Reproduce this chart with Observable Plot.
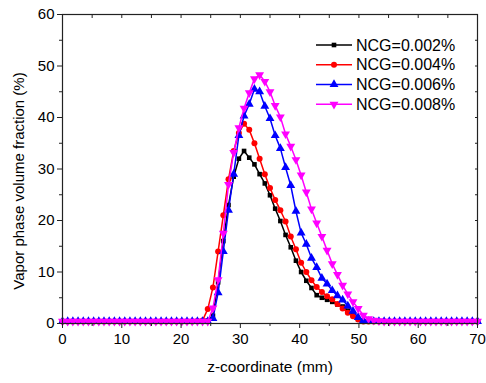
<!DOCTYPE html>
<html><head><meta charset="utf-8">
<script src="https://cdn.jsdelivr.net/npm/d3@7"></script>
<script src="https://cdn.jsdelivr.net/npm/@observablehq/plot@0.6"></script>
<style>
body{margin:0;background:#fff;}
#wrap{position:relative;width:486px;height:383px;font-family:"Liberation Sans",Arial,sans-serif;}
#legend{position:absolute;left:0;top:0;pointer-events:none;}
</style></head>
<body><div id="wrap"></div>
<script>
const zCoord = [0,0.875,1.75,2.625,3.5,4.375,5.25,6.125,7,7.875,8.75,9.625,10.5,11.375,12.25,13.125,14,14.875,15.75,16.625,17.5,18.375,19.25,20.125,21,21.875,22.75,23.625,24.5,25.375,26.25,27.125,28,28.875,29.75,30.625,31.5,32.375,33.25,34.125,35,35.875,36.75,37.625,38.5,39.375,40.25,41.125,42,42.875,43.75,44.625,45.5,46.375,47.25,48.125,49,49.875,50.75,51.625,52.5,53.375,54.25,55.125,56,56.875,57.75,58.625,59.5,60.375,61.25,62.125,63,63.875,64.75,65.625,66.5,67.375,68.25,69.125,70];
const ncg002 = [0.4,0.4,0.4,0.4,0.4,0.4,0.4,0.4,0.4,0.4,0.4,0.4,0.4,0.4,0.4,0.4,0.4,0.4,0.4,0.4,0.4,0.4,0.4,0.4,0.4,0.4,
  0.4,0.4,0.6,1.5,8,16,23,28.5,32,33.5,32.2,30.9,29,27.2,24.9,22.3,19.9,17.2,14.8,12.2,10,8.3,6.9,5.5,5.0,4.6,4.2,3.7,3.3,2.5,1.6,0.8,0.4,
  0.4,0.4,0.4,0.4,0.4,0.4,0.4,0.4,0.4,0.4,0.4,0.4,0.4,0.4,0.4,0.4,0.4,0.4,0.4,0.4,0.4,0.4];
const ncg004 = [0.4,0.4,0.4,0.4,0.4,0.4,0.4,0.4,0.4,0.4,0.4,0.4,0.4,0.4,0.4,0.4,0.4,0.4,0.4,0.4,0.4,0.4,0.4,0.4,0.4,0.4,
  0.5,0.6,2.8,7,14,21,28,33.5,37,38.8,37.6,35,32,29,26.3,24,22,19.8,16.9,14.4,11.8,10,8.4,7.1,6.1,5.3,4.7,3.8,2.9,2.1,1.4,0.8,0.4,
  0.4,0.4,0.4,0.4,0.4,0.4,0.4,0.4,0.4,0.4,0.4,0.4,0.4,0.4,0.4,0.4,0.4,0.4,0.4,0.4,0.4,0.4];
const ncg006 = [0.4,0.4,0.4,0.4,0.4,0.4,0.4,0.4,0.4,0.4,0.4,0.4,0.4,0.4,0.4,0.4,0.4,0.4,0.4,0.4,0.4,0.4,0.4,0.4,0.4,0.4,
  0.4,0.4,0.4,1,6,14,22,29,36.5,40.3,42.6,45.5,45,42.2,39.8,36.5,34,30.3,26.8,21.8,17.6,15.4,12.7,10.9,8.8,7.7,6.4,5.4,4.6,3.4,2.4,1.2,0.6,
  0.4,0.4,0.4,0.4,0.4,0.4,0.4,0.4,0.4,0.4,0.4,0.4,0.4,0.4,0.4,0.4,0.4,0.4,0.4,0.4,0.4,0.4];
const ncg008 = [0.4,0.4,0.4,0.4,0.4,0.4,0.4,0.4,0.4,0.4,0.4,0.4,0.4,0.4,0.4,0.4,0.4,0.4,0.4,0.4,0.4,0.4,0.4,0.4,0.4,0.4,
  0.4,0.4,0.4,3,8.5,17.5,27,33.2,38,41.8,44.8,47.5,48.3,47,45,42.3,40.1,36.8,34.4,31.8,28.8,25.5,22.2,19.5,16.9,14.2,11.6,9.5,7.4,5.7,4.2,2.9,1.6,
  0.9,0.6,0.5,0.4,0.4,0.4,0.4,0.4,0.4,0.4,0.4,0.4,0.4,0.4,0.4,0.4,0.4,0.4,0.4,0.4,0.4,0.4];
const seriesNames = ["NCG=0.002%","NCG=0.004%","NCG=0.006%","NCG=0.008%"];
const seriesColors = ["#000000","#ff0000","#0000ff","#ff00ff"];
const xMajor = [0,10,20,30,40,50,60,70];
const xMinor = [5,15,25,35,45,55,65];
const yMajor = [0,10,20,30,40,50,60];
const yMinor = [5,15,25,35,45,55];
const xTitle = "z-coordinate (mm)";
const yTitle = "Vapor phase volume fraction (%)";

const triangleDown = {draw(ctx, size){const y = -Math.sqrt(size/(3*Math.sqrt(3)));ctx.moveTo(0,-2*y);ctx.lineTo(-Math.sqrt(3)*y,y);ctx.lineTo(Math.sqrt(3)*y,y);ctx.closePath();}};
const symbols = ["square","circle","triangle",triangleDown];
const radii = [2.6,3.0,3.3,3.3];
const allSeries = [ncg002,ncg004,ncg006,ncg008];
const rows = allSeries.map((vals,i)=>zCoord.map((z,j)=>({z, v:vals[j]})));

const marks = [];
rows.forEach((data,i)=>{
  marks.push(Plot.line(data,{x:"z",y:"v",stroke:seriesColors[i],strokeWidth:1.5}));
  marks.push(Plot.dot(data,{x:"z",y:"v",fill:seriesColors[i],stroke:"none",symbol:symbols[i],r:radii[i]}));
});

const chart = Plot.plot({
  width:486,height:383,
  marginLeft:62,marginRight:9,marginTop:14,marginBottom:60,
  style:{fontFamily:"'Liberation Sans',Arial,sans-serif",fontSize:"15px",color:"#000",background:"#fff"},
  x:{domain:[0,70]},
  y:{domain:[0,60]},
  marks:[
    ...marks,
    Plot.frame({stroke:"#222",strokeWidth:1.2}),
    Plot.axisX(xMajor,{anchor:"bottom",tickSize:5,tickPadding:5,fontSize:15,stroke:"#222",label:null}),
    Plot.axisX(xMinor,{anchor:"bottom",tickSize:3,text:null,label:null,stroke:"#222"}),
    Plot.axisY(yMajor,{anchor:"left",tickSize:5,tickPadding:3,fontSize:15,stroke:"#222",label:null}),
    Plot.axisY(yMinor,{anchor:"left",tickSize:3,text:null,label:null,stroke:"#222"}),
    Plot.axisX([...xMajor,...xMinor],{anchor:"top",tickSize:-3,text:null,label:null,stroke:"#222"}),
    Plot.axisY([...yMajor,...yMinor],{anchor:"right",tickSize:-3,text:null,label:null,stroke:"#222"}),
    Plot.text([xTitle],{frameAnchor:"bottom",dy:48,fontSize:15.5,fill:"#000"}),
    Plot.text([yTitle],{frameAnchor:"left",textAnchor:"middle",rotate:-90,dx:-43,dy:12,fontSize:15,fill:"#000"})
  ]
});
const wrap = document.getElementById("wrap");
wrap.appendChild(chart);

// legend overlay
const leg = d3.select(wrap).append("svg").attr("id","legend").attr("width",486).attr("height",383);
const rowY = [45,64.7,84.5,104.3];
seriesNames.forEach((name,i)=>{
  const g = leg.append("g").attr("transform",`translate(0,${rowY[i]})`);
  g.append("line").attr("x1",316).attr("x2",352).attr("y1",0).attr("y2",0).attr("stroke",seriesColors[i]).attr("stroke-width",1.5);
  const area = Math.PI*radii[i]*radii[i];
  g.append("path").attr("transform","translate(334,0)").attr("d",d3.symbol().type(typeof symbols[i]==="string"?{square:d3.symbolSquare,circle:d3.symbolCircle,triangle:d3.symbolTriangle}[symbols[i]]:symbols[i]).size(area)).attr("fill",seriesColors[i]);
  g.append("text").attr("x",356).attr("y",5.5).attr("font-size",16).attr("font-family","'Liberation Sans',Arial,sans-serif").attr("fill","#000").text(name);
});
</script></body></html>
